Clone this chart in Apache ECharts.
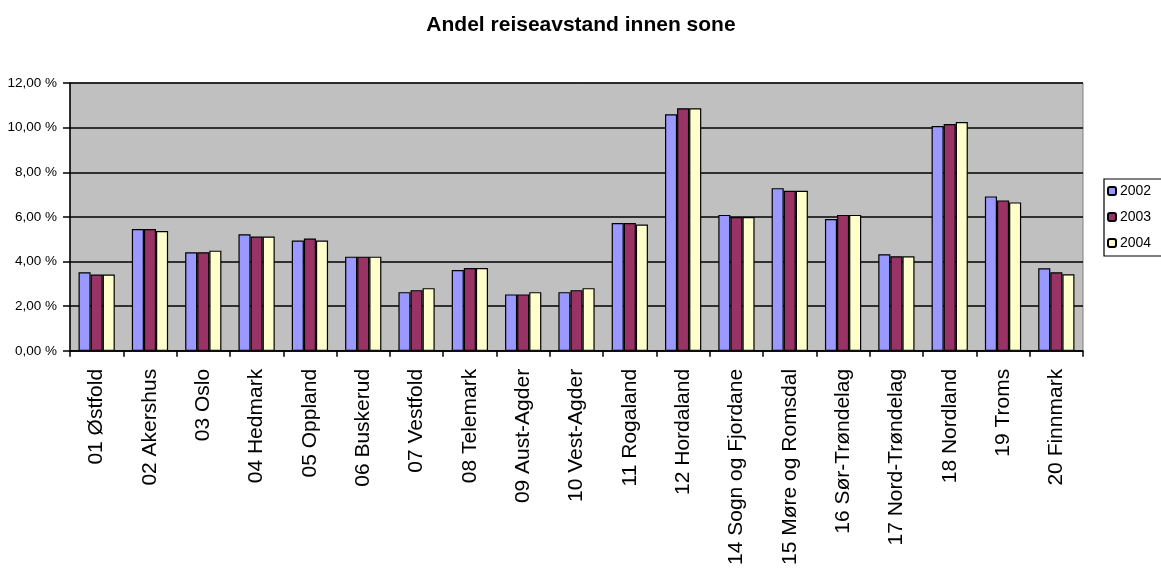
<!DOCTYPE html>
<html>
<head>
<meta charset="utf-8">
<script src="https://cdn.jsdelivr.net/npm/echarts@6/dist/echarts.min.js"></script>
<style>
  html, body { margin: 0; padding: 0; background: #fff; }
  #chart { width: 1161px; height: 568px; }
</style>
</head>
<body>
<div id="chart"></div>
<script>
// Share of travel distance within zone, per county (percent)
const categories = [
  '01 Østfold', '02 Akershus', '03 Oslo', '04 Hedmark', '05 Oppland',
  '06 Buskerud', '07 Vestfold', '08 Telemark', '09 Aust-Agder', '10 Vest-Agder',
  '11 Rogaland', '12 Hordaland', '14 Sogn og Fjordane', '15 Møre og Romsdal',
  '16 Sør-Trøndelag', '17 Nord-Trøndelag', '18 Nordland', '19 Troms', '20 Finnmark'
];
const years = ['2002', '2003', '2004'];
const values2002 = [3.52, 5.46, 4.42, 5.22, 4.94, 4.22, 2.63, 3.62, 2.53, 2.63, 5.73, 10.60, 6.09, 7.29, 5.91, 4.33, 10.07, 6.92, 3.70];
const values2003 = [3.42, 5.46, 4.42, 5.12, 5.03, 4.22, 2.72, 3.71, 2.53, 2.72, 5.73, 10.87, 6.00, 7.17, 6.09, 4.24, 10.16, 6.74, 3.52];
const values2004 = [3.42, 5.37, 4.49, 5.12, 4.94, 4.22, 2.81, 3.71, 2.63, 2.81, 5.66, 10.87, 6.00, 7.17, 6.09, 4.24, 10.25, 6.65, 3.43];
const colors = ['#9999FF', '#993366', '#FFFFCC'];

const font = 'Liberation Sans, Arial, sans-serif';
const seriesData = [values2002, values2003, values2004];

const chart = echarts.init(document.getElementById('chart'));
chart.setOption({
  animation: false,
  backgroundColor: '#ffffff',
  title: {
    text: 'Andel reiseavstand innen sone',
    left: 576, top: 10, textAlign: 'center',
    textStyle: { fontFamily: font, fontSize: 21, fontWeight: 'bold', color: '#000' }
  },
  legend: {
    orient: 'vertical',
    left: 1104, top: 179,
    data: years,
    itemWidth: 8, itemHeight: 8, itemGap: 12,
    padding: [5, 16, 6, 3],
    borderColor: '#000', borderWidth: 1.2,
    textStyle: { fontFamily: font, fontSize: 14, color: '#000', padding: [0, 0, 0, -1] }
  },
  grid: {
    left: 70, right: 78, top: 83, bottom: 217,
    show: true, backgroundColor: '#C0C0C0', borderColor: '#808080', borderWidth: 1
  },
  xAxis: {
    type: 'category',
    data: categories,
    axisLine: { lineStyle: { color: '#000', width: 1.5 } },
    axisTick: { show: true, length: 6, lineStyle: { color: '#000', width: 1.5 } },
    axisLabel: {
      rotate: 90, margin: 18, interval: 0,
      fontFamily: font, fontSize: 21, color: '#000'
    }
  },
  yAxis: {
    type: 'value',
    min: 0, max: 12, interval: 2,
    axisLine: { show: true, lineStyle: { color: '#000', width: 1.5 } },
    axisTick: { show: true, length: 7, lineStyle: { color: '#000', width: 1.5 } },
    splitLine: { lineStyle: { color: '#000', width: 1.5 } },
    axisLabel: {
      margin: 13,
      fontFamily: font, fontSize: 13.5, color: '#000',
      formatter: v => v.toFixed(2).replace('.', ',') + ' %'
    }
  },
  series: years.map((y, i) => ({
    name: y,
    type: 'bar',
    data: seriesData[i],
    barGap: '0%',
    barCategoryGap: '32%',
    itemStyle: { color: colors[i], borderColor: '#000', borderWidth: 1.2 }
  }))
});
</script>
</body>
</html>
